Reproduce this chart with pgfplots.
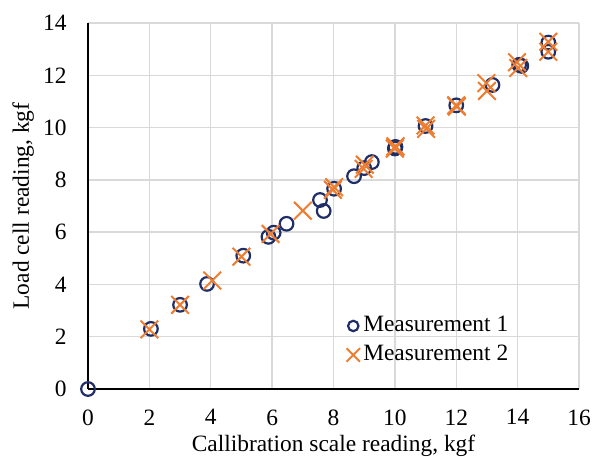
\documentclass[border=0pt]{standalone}
\usepackage{fontspec}
\setmainfont{Liberation Serif}
\usepackage{pgfplots}
\pgfplotsset{compat=1.18}
\definecolor{navy}{RGB}{32,46,104}
\definecolor{orng}{RGB}{237,125,49}
\definecolor{gridc}{RGB}{217,217,217}
\newcommand{\fs}{\fontsize{23.5}{28}\selectfont}
\begin{document}
\begin{tikzpicture}
\begin{axis}[
  scale only axis,
  width=491bp, height=366bp,
  xmin=0, xmax=16, ymin=0, ymax=14,
  xtick={0,2,...,16}, ytick={0,2,...,14},
  axis lines=left,
  axis line style={-, black, line width=2bp},
  grid=major,
  major grid style={gridc, line width=1.5bp},
  major tick length=0pt,
  /pgf/number format/assume math mode=true,
  tick label style={font=\fs},
  xticklabel shift=17bp,
  yticklabel shift=18bp,
  xlabel={Callibration scale reading, kgf},
  ylabel={Load cell reading, kgf},
  every axis x label/.style={at={(axis description cs:0.5,-0.1694)}, anchor=base, font=\fs},
  every axis y label/.style={at={(axis description cs:-0.132,0.5)}, anchor=center, rotate=90, font=\fs},
  clip=false,
  legend style={draw=none, fill=none, font=\fs, at={(axis cs:8.28,3.05)}, anchor=north west,
    row sep=0bp, nodes={inner sep=2bp, text height=18bp, text depth=7bp}},
  legend cell align=left,
  legend image code/.code={\path (0bp,0bp) (14bp,0bp); \draw[#1] plot coordinates {(7bp,0bp)};},
]
\addplot[only marks, mark=o, mark size=6.8bp, mark options={navy, line width=2.2bp}, legend image post style={mark size=5.2bp, line width=2bp}] table {
x y
0 0
2.05 2.30
3.00 3.22
3.88 4.02
5.06 5.10
5.88 5.82
6.05 5.98
6.47 6.32
7.56 7.23
7.68 6.81
8.02 7.66
8.67 8.14
9.00 8.45
9.25 8.68
10.00 9.20
10.02 9.26
11.00 10.06
12.00 10.85
13.18 11.63
14.05 12.40
14.12 12.36
15.00 13.25
15.00 12.90
};
\addlegendentry{Measurement 1}
\addplot[only marks, mark=x, mark size=12.5bp, mark options={orng, line width=2bp}, legend image post style={mark size=9.5bp, line width=1.8bp}] table {
x y
2.00 2.28
3.00 3.22
4.05 4.15
5.00 5.06
5.95 5.93
7.00 6.82
7.98 7.62
8.02 7.72
8.98 8.42
9.02 8.58
10.00 9.20
10.02 9.28
11.00 10.08
11.02 9.95
12.00 10.85
12.02 10.80
12.98 11.70
13.00 11.40
13.98 12.50
14.02 12.28
15.00 13.28
15.00 12.90
};
\addlegendentry{Measurement 2}
\coordinate (bbsw) at (axis cs:-2.8676,-2.601);
\coordinate (bbne) at (axis cs:16.4236,14.880);
\end{axis}
\pgfresetboundingbox
\path[use as bounding box] (bbsw) rectangle (bbne);
\end{tikzpicture}
\end{document}
